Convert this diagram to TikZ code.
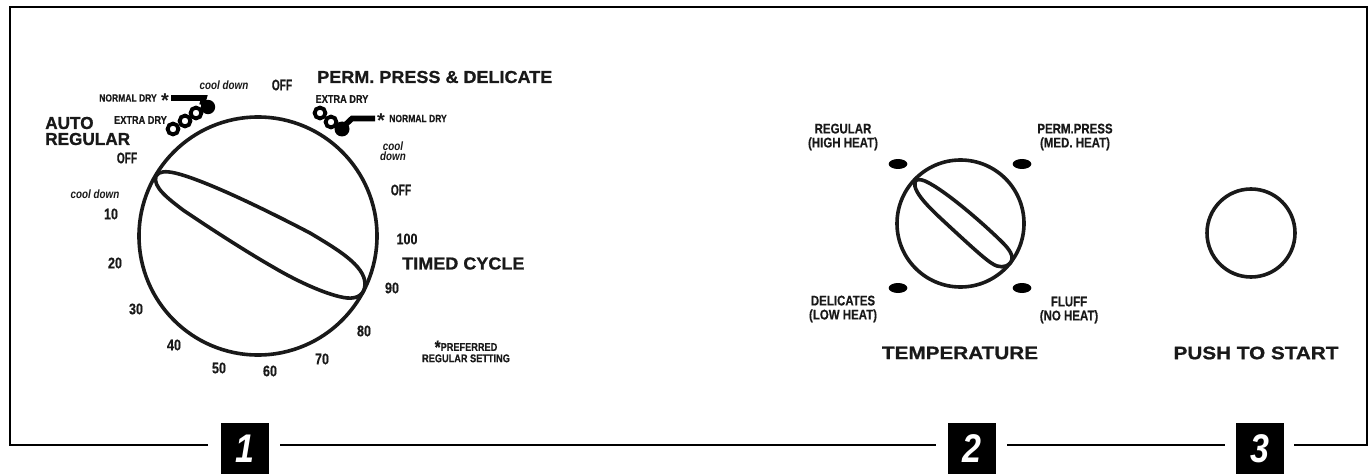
\documentclass[tikz,border=0pt]{standalone}
\usepackage{fontspec}
\usetikzlibrary{shapes.geometric}
\setmainfont{Liberation Sans}
\newfontfamily\narrowf[FakeStretch=0.82,BoldFont={Liberation Sans Bold},BoldFeatures={FakeBold=0.35}]{Liberation Sans}
\newfontfamily\tightf[FakeStretch=0.66,BoldFont={Liberation Sans Bold},BoldFeatures={FakeBold=0.35}]{Liberation Sans}
\newfontfamily\tagf[FakeStretch=0.85,BoldFont={Liberation Sans Bold}]{Liberation Sans}
\newfontfamily\widef[FakeStretch=1.04,BoldFont={Liberation Sans Bold},BoldFeatures={FakeBold=0.9}]{Liberation Sans}
\newfontfamily\autof[FakeStretch=0.99,BoldFont={Liberation Sans Bold},BoldFeatures={FakeBold=0.9}]{Liberation Sans}
\newfontfamily\tempf[FakeStretch=1.15,BoldFont={Liberation Sans Bold},BoldFeatures={FakeBold=0.9}]{Liberation Sans}
\begin{document}
\begin{tikzpicture}[x=0.75pt,y=-0.75pt,
 lw/.style={line width=2.2pt,draw=black,line cap=butt},
 dial/.style={line width=2.7pt,draw=black!90},
 lab/.style={inner sep=0pt,align=center,font=\narrowf\bfseries\fontsize{10.5}{10.5}\selectfont,text=black!90},
 num/.style={inner sep=0pt,align=center,font=\narrowf\bfseries\fontsize{11.5}{12}\selectfont,text=black!90},
 offlab/.style={inner sep=0pt,align=center,font=\tightf\bfseries\fontsize{11.5}{12}\selectfont,text=black!90},
 smalllab/.style={inner sep=0pt,align=center,font=\narrowf\bfseries\fontsize{7.8}{8.5}\selectfont,text=black!90},
 extralab/.style={inner sep=0pt,align=center,font=\narrowf\bfseries\fontsize{8.4}{9}\selectfont,text=black!90},
 starlab/.style={inner sep=0pt,font=\bfseries\fontsize{15}{15}\selectfont,text=black!90},
 cool/.style={inner sep=0pt,align=center,font=\narrowf\bfseries\itshape\fontsize{9}{7.8}\selectfont,text=black!90},
 head/.style={inner sep=0pt,align=center,font=\widef\bfseries\fontsize{13}{13}\selectfont,text=black!90},
 headb/.style={inner sep=0pt,align=center,font=\tempf\bfseries\fontsize{13.5}{13.5}\selectfont,text=black!90},
 tag/.style={fill=black,text=white,minimum width=36pt,minimum height=38.2pt,inner sep=0pt,font=\tagf\bfseries\itshape\fontsize{30}{30}\selectfont},
 dot/.style={ellipse,fill=black,minimum width=14pt,minimum height=7.5pt,inner sep=0pt},
 ring/.style={line width=2.9pt,draw=black,fill=white}]
\useasboundingbox (0,0) rectangle (1370,474);
\fill[white] (0,0) rectangle (1370,474);
% tags
\node[tag] (t1) at (245,448.5) {1};
\node[tag] (t2) at (972,448.5) {2};
\node[tag] (t3) at (1259.5,448.5) {3};
% frame
\draw[lw] (208,445) -- (10,445) -- (10,7) -- (1367,7) -- (1367,445) -- (1294,445);
\draw[lw] (280,445) -- (936,445);
\draw[lw] (1007,445) -- (1225,445);
% big dial
\draw[dial] (258,236) circle (119);
\draw[dial] (156,176) .. controls (159,171) and (166,171) .. (175,173)
  .. controls (205,180) and (270,212) .. (310,233)
  .. controls (335,248) and (365,265) .. (365,284)
  .. controls (365,294) and (358,299) .. (347,298)
  .. controls (330,296) and (300,283) .. (273,267)
  .. controls (245,251) and (205,225) .. (183,210)
  .. controls (170,200) and (152,187) .. (156,176) -- cycle;
% left indicator
\draw[line width=4.2pt] (171,98) -- (204,98) -- (202,105);
\fill (208,107) circle (7.2);
\draw[ring] (173,129) circle (5.4);
\draw[ring] (185,121) circle (5.4);
\draw[ring] (196,113) circle (5.4);
% right indicator
\draw[line width=4.2pt] (343,127) -- (352,118.5) -- (375,118.5);
\draw[ring] (320,113) circle (5.4);
\draw[ring] (331,122) circle (5.4);
\fill (342,129) circle (7.5);
% big dial texts
\node[smalllab,anchor=east] (nd1) at (157,98) {NORMAL DRY};
\node[starlab] (as1) at (165,101) {*};
\node[cool] (cd1) at (224,85) {cool down};
\node[offlab] (off1) at (282,85) {OFF};
\node[head,anchor=west] (perm) at (317,77) {PERM. PRESS \& DELICATE};
\node[extralab] (ex2) at (342,99) {EXTRA DRY};
\node[starlab] (as2) at (381,121) {*};
\node[smalllab,anchor=west] (nd2) at (389,118.5) {NORMAL DRY};
\node[cool] (cd2) at (393,151) {cool\\down};
\node[offlab] (off2) at (401,190) {OFF};
\node[num] (n100) at (407,239) {100};
\node[head,anchor=west] (timed) at (402,263.5) {TIMED CYCLE};
\node[num] (n90) at (392,288) {90};
\node[num] (n80) at (364,331) {80};
\node[num] (n70) at (322,359) {70};
\node[num] (n60) at (270,371) {60};
\node[num] (n50) at (219,368) {50};
\node[num] (n40) at (174,345) {40};
\node[num] (n30) at (136,309) {30};
\node[num] (n20) at (115,263) {20};
\node[num] (n10) at (111,214) {10};
\node[cool] (cd3) at (95,194) {cool down};
\node[offlab] (off3) at (127,158) {OFF};
\node[extralab] (ex1) at (140.5,120) {EXTRA DRY};
\node[anchor=west,inner sep=0pt,align=left,text=black!90,font=\autof\bfseries\fontsize{13}{12}\selectfont] (auto) at (45,131) {AUTO\\REGULAR};
\node[inner sep=0pt,align=center,text=black!90,font=\narrowf\bfseries\fontsize{8.4}{8.5}\selectfont] (pref) at (466,351.5) {\raisebox{-2pt}{\fontsize{14}{8}\selectfont *}PREFERRED\\REGULAR SETTING};
% temperature dial
\draw[dial] (960.5,223.5) circle (63.5);
\draw[dial] (915,182) .. controls (916,179) and (920,179) .. (925,181)
  .. controls (945,190) and (985,225) .. (1003,243)
  .. controls (1010,250) and (1013,256) .. (1012,259)
  .. controls (1011,266) and (1003,268) .. (997,266)
  .. controls (990,264) and (975,250) .. (950,227)
  .. controls (935,213) and (912,193) .. (915,182) -- cycle;
\node[dot] (d1) at (898,164) {};
\node[dot] (d2) at (1022,164) {};
\node[dot] (d3) at (898,288) {};
\node[dot] (d4) at (1022,288) {};
\node[lab] (reg) at (843,137) {REGULAR\\(HIGH HEAT)};
\node[lab] (pp) at (1075,137) {PERM.PRESS\\(MED. HEAT)};
\node[lab] (del) at (843,309) {DELICATES\\(LOW HEAT)};
\node[lab] (flu) at (1069,310) {FLUFF\\(NO HEAT)};
\node[headb] (temp) at (960,353) {TEMPERATURE};
% start
\draw[dial] (1251,233) circle (44);
\node[headb] (push) at (1256,353) {PUSH TO START};
\end{tikzpicture}
\end{document}
